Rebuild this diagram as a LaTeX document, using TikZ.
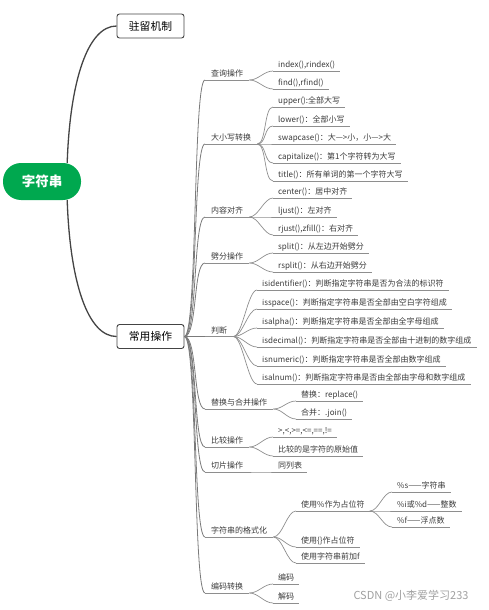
\documentclass[tikz,border=0pt]{standalone}
\usepackage{fontspec}
\setmainfont{Noto Sans CJK SC}
\definecolor{rootgreen}{HTML}{00A84F}
\definecolor{mainline}{HTML}{444444}
\definecolor{subline}{HTML}{7A7A7A}
\definecolor{leafline}{HTML}{8E8E8E}
\definecolor{txt}{HTML}{3A3A3A}
\definecolor{wm}{HTML}{A0A0A0}
\begin{document}
\begin{tikzpicture}[x=1pt,y=-1pt,
  rootnode/.style={fill=rootgreen, rounded corners=18pt, minimum width=78pt, minimum height=37pt,
    text=white, font=\fontsize{13.5}{15}\selectfont\bfseries, inner sep=0pt},
  mainbox/.style={draw=mainline, line width=0.9pt, rounded corners=2.5pt, fill=white,
    minimum width=67pt, minimum height=24pt, font=\fontsize{10.8}{12}\selectfont, text=black, inner sep=0pt},
  mainconn/.style={draw=mainline, line width=1.3pt},
  trunk/.style={draw=subline, line width=0.8pt},
  leafconn/.style={draw=leafline, line width=0.7pt},
  lbl/.style={font=\fontsize{8}{9}\selectfont, text=txt, inner ysep=1.5pt,
    text height=6pt, text depth=1.5pt, anchor=south west,
    append after command={(\tikzlastnode.south west) edge[leafconn] (\tikzlastnode.south east)}},
  sub/.style={lbl, inner xsep=6pt},
  leaf/.style={lbl, inner xsep=5pt}
]
\useasboundingbox (0,0) rectangle (489,610);

% main nodes
\node[rootnode] (root) at (42,181.5) {字符串};
\node[mainbox] (zl) at (150.5,26) {驻留机制};
\node[mainbox] (cy) at (150.5,336.5) {常用操作};

\draw[mainconn] ([xshift=-14pt]root.north east) .. controls (70,80) and (88,26) .. (zl.west);
\draw[mainconn] ([xshift=-14pt]root.south east) .. controls (70,283) and (88,336.5) .. (cy.west);

% subcategories
\node[sub] (q)  at (205,80)  {查询操作};
\node[sub] (dx) at (205,144) {大小写转换};
\node[sub] (nr) at (205,217) {内容对齐};
\node[sub] (pf) at (205,263) {劈分操作};
\node[sub] (pd) at (205,336.5) {判断};
\node[sub] (th) at (205,409) {替换与合并操作};
\node[sub] (bj) at (205,447) {比较操作};
\node[sub] (qp) at (205,472) {切片操作};
\node[sub] (gs) at (205,537) {字符串的格式化};
\node[sub] (bm) at (205,593) {编码转换};

\foreach \n in {q,dx,nr,pf,pd,th,bj,qp,gs,bm}
  \draw[trunk] (cy.east) .. controls +(13,0) and +(-12,0) .. (\n.south west);

% leaves
\node[leaf] (q1) at (273,71) {index(),rindex()};
\node[leaf] (q2) at (273,89) {find(),rfind()};

\node[leaf] (d1) at (273,107) {upper():全部大写};
\node[leaf] (d2) at (273,126) {lower()：全部小写};
\node[leaf] (d3) at (273,144) {swapcase()：大—>小，小—>大};
\node[leaf] (d4) at (273,163) {capitalize()：第1个字符转为大写};
\node[leaf] (d5) at (273,181) {title()：所有单词的第一个字符大写};

\node[leaf] (n1) at (273,198) {center()：居中对齐};
\node[leaf] (n2) at (273,217) {ljust()：左对齐};
\node[leaf] (n3) at (273,235) {rjust(),zfill()：右对齐};

\node[leaf] (p1) at (273,253) {split()：从左边开始劈分};
\node[leaf] (p2) at (273,272) {rsplit()：从右边开始劈分};

\node[leaf] (j1) at (257,290) {isidentifier()：判断指定字符串是否为合法的标识符};
\node[leaf] (j2) at (257,309) {isspace()：判断指定字符串是否全部由空白字符组成};
\node[leaf] (j3) at (257,328) {isalpha()：判断指定字符串是否全部由全字母组成};
\node[leaf] (j4) at (257,347) {isdecimal()：判断指定字符串是否全部由十进制的数字组成};
\node[leaf] (j5) at (257,366) {isnumeric()：判断指定字符串是否全部由数字组成};
\node[leaf] (j6) at (257,384) {isalnum()：判断指定字符串是否由全部由字母和数字组成};

\node[leaf] (t1) at (296,401) {替换：replace()};
\node[leaf] (t2) at (296,419) {合并：.join()};

\node[leaf] (b1) at (273,437) {>,<,>=,<=,==,!=};
\node[leaf] (b2) at (273,456) {比较的是字符的原始值};

\node[leaf] (s1) at (273,472) {同列表};

\node[leaf] (g1) at (296,511) {使用\%作为占位符};
\node[leaf] (g2) at (296,547) {使用\{\}作占位符};
\node[leaf] (g3) at (296,563) {使用字符串前加f};

\node[leaf] (f1) at (392,492) {\%s——字符串};
\node[leaf] (f2) at (392,511) {\%i或\%d——整数};
\node[leaf] (f3) at (392,527) {\%f——浮点数};

\node[leaf] (e1) at (273,584) {编码};
\node[leaf] (e2) at (273,603) {解码};

\foreach \p/\c in {q/q1,q/q2,dx/d1,dx/d2,dx/d3,dx/d4,dx/d5,nr/n1,nr/n2,nr/n3,pf/p1,pf/p2,
  pd/j1,pd/j2,pd/j3,pd/j4,pd/j5,pd/j6,th/t1,th/t2,bj/b1,bj/b2,qp/s1,gs/g1,gs/g2,gs/g3,
  g1/f1,g1/f2,g1/f3,bm/e1,bm/e2}
  \draw[leafconn] (\p.south east) .. controls +(9,0) and +(-9,0) .. (\c.south west);

% watermark text
\node[font=\fontsize{11}{13}\selectfont, text=wm, anchor=center] (csdn) at (411,596) {CSDN @小李爱学习233};
\end{tikzpicture}
\end{document}
